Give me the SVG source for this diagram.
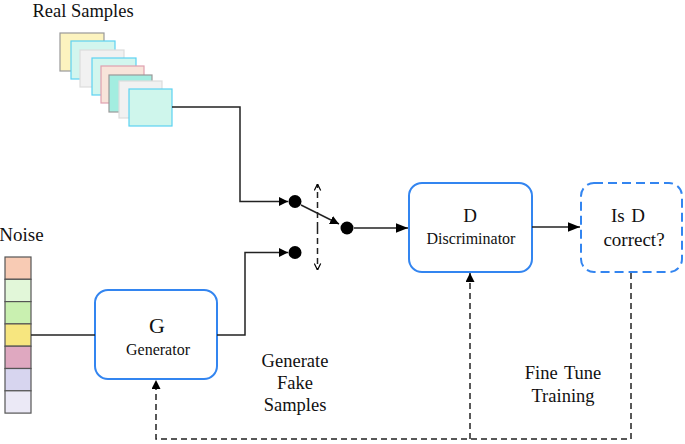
<svg xmlns="http://www.w3.org/2000/svg" width="685" height="444" viewBox="0 0 685 444">
<defs>
<style>
.t{font-family:'Liberation Serif','DejaVu Serif',serif;fill:#111;text-anchor:middle}
.ln{fill:none;stroke:#222;stroke-width:1.5}
.dl{fill:none;stroke:#222;stroke-width:1.5;stroke-dasharray:6,4}
.box{fill:#fff;stroke:#3385f0;stroke-width:2}
.dot{fill:#000}
.cell{stroke:#555;stroke-width:1.2}
</style>
<marker id="ah" viewBox="0 0 10 10" refX="10" refY="5" markerWidth="9" markerHeight="9" markerUnits="userSpaceOnUse" orient="auto">
<path d="M0,0 L10,5 L0,10 z" fill="#000"/>
</marker>
<marker id="ah2" viewBox="0 0 10 10" refX="10" refY="5" markerWidth="12" markerHeight="12" markerUnits="userSpaceOnUse" orient="auto">
<path d="M0,1 L10,5 L0,9 z" fill="#000"/>
</marker>
<marker id="oa" viewBox="0 0 10 10" refX="10" refY="5" markerWidth="8" markerHeight="8" markerUnits="userSpaceOnUse" orient="auto">
<path d="M2,1 L10,5 L2,9" fill="none" stroke="#000" stroke-width="1.5"/>
</marker>
</defs>
<rect width="685" height="444" fill="#fff"/>

<g id="real-samples">
<text class="t" x="83" y="17" font-size="18.5">Real Samples</text>
<rect x="60" y="33" width="44" height="38" fill="#fcf3bf" stroke="#999" stroke-width="1.2"/>
<rect x="71" y="41" width="44" height="38" fill="#d2f6ee" stroke="#5cd2f2" stroke-width="1.2"/>
<rect x="80" y="50" width="44" height="37" fill="#f1f1f1" stroke="#dcdcdc" stroke-width="1.2"/>
<rect x="92" y="58" width="44" height="37" fill="#d2f6ee" stroke="#5cd2f2" stroke-width="1.2"/>
<rect x="101" y="66" width="43" height="37" fill="#f8e4da" stroke="#e0a0b0" stroke-width="1.2"/>
<rect x="109" y="75" width="43" height="37" fill="#a3ede0" stroke="#999" stroke-width="1.2"/>
<rect x="119" y="81" width="43" height="37" fill="#f1f1f1" stroke="#dcdcdc" stroke-width="1.2"/>
<rect x="129" y="89" width="43" height="37" fill="#cff6ec" stroke="#5cd2f2" stroke-width="1.2"/>
</g>

<g id="noise">
<text class="t" x="21.5" y="241" font-size="19">Noise</text>
<rect class="cell" x="5" y="257" width="26" height="22.3" fill="#f8cbb4"/>
<rect class="cell" x="5" y="279.3" width="26" height="22.3" fill="#e2f7d9"/>
<rect class="cell" x="5" y="301.6" width="26" height="22.3" fill="#c9f0b0"/>
<rect class="cell" x="5" y="323.9" width="26" height="22.3" fill="#f7e67f"/>
<rect class="cell" x="5" y="346.2" width="26" height="22.3" fill="#dfa8c0"/>
<rect class="cell" x="5" y="368.5" width="26" height="22.3" fill="#d7d5ef"/>
<rect class="cell" x="5" y="390.8" width="26" height="22.3" fill="#ebe9f6"/>
</g>

<g id="generator">
<rect class="box" x="95" y="290" width="122" height="89" rx="13"/>
<text class="t" x="157" y="333" font-size="22">G</text>
<text class="t" x="158" y="355" font-size="16">Generator</text>
</g>

<g id="discriminator">
<rect class="box" x="409" y="183" width="123" height="89" rx="13"/>
<text class="t" x="470" y="222" font-size="19">D</text>
<text class="t" x="471" y="244" font-size="16">Discriminator</text>
</g>

<g id="is-d-correct">
<rect class="box" x="581" y="183" width="101" height="89" rx="13" stroke-dasharray="9,5"/>
<text class="t" x="628" y="222" font-size="19" word-spacing="2">Is D</text>
<text class="t" x="634" y="246" font-size="19">correct?</text>
</g>

<g id="switch">
<circle class="dot" cx="295" cy="201.5" r="6.5"/>
<circle class="dot" cx="295" cy="252.5" r="6.5"/>
<circle class="dot" cx="347" cy="228" r="6.5"/>
</g>

<g id="labels">
<text class="t" x="295" y="367" font-size="18.5">Generate</text>
<text class="t" x="295" y="389" font-size="18.5">Fake</text>
<text class="t" x="295" y="411" font-size="18.5">Samples</text>
<text class="t" x="563" y="379" font-size="18.5" word-spacing="2">Fine Tune</text>
<text class="t" x="563" y="402" font-size="18.5">Training</text>
</g>

<g id="connectors">
<path class="ln" d="M172,107 H240 V201.5 H288" marker-end="url(#ah)"/>
<path class="ln" d="M217,335 H245 V252.5 H288" marker-end="url(#ah)"/>
<path class="ln" d="M31,335 H95"/>
<path class="ln" d="M301,205 L339,224" marker-end="url(#ah)"/>
<path class="ln" d="M354,228 H408" marker-end="url(#ah2)"/>
<path class="ln" d="M532,227 H580" marker-end="url(#ah2)"/>
<path class="dl" d="M317.5,228 V184" marker-end="url(#oa)"/>
<path class="dl" d="M317.5,228 V270" marker-end="url(#oa)"/>
<path class="dl" d="M631,273 V439 H156 V380" marker-end="url(#ah)"/>
<path class="dl" d="M470,439 V273" marker-end="url(#ah)"/>
</g>
</svg>
